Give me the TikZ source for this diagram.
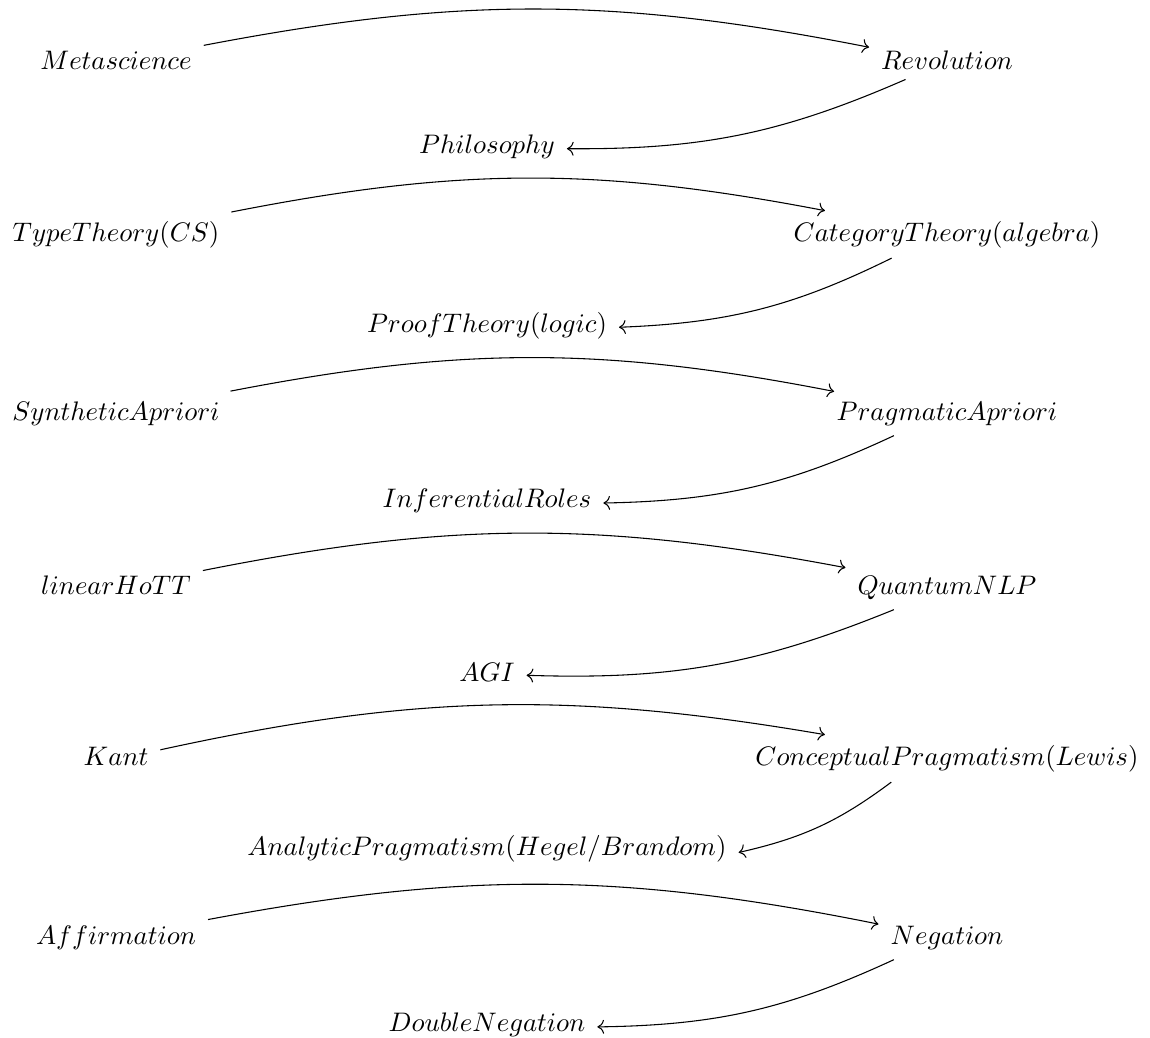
\documentclass[tikz,border=0pt]{standalone}
\usepackage{tikz-cd}
\begin{document}
\begin{tikzpicture}[x=0.3731pt,y=-0.3731pt,
  cell/.style={shape=asymmetrical rectangle, inner xsep=1ex, inner ysep=0.85ex},
  arr/.style={-{cm to}, line width=0.4pt},
]
\useasboundingbox (0,0) rectangle (1150,1038);
% group 1
\node[cell] (a1) at (116,62.4) {$Metascience$};
\node[cell] (b1) at (947,62.4) {$Revolution$};
\node[cell] (c1) at (487,146.4) {$Philosophy$};
% group 2
\node[cell] (a2) at (116,234.4) {$TypeTheory(CS)$};
\node[cell] (b2) at (947,234.4) {$CategoryTheory(algebra)$};
\node[cell] (c2) at (487,325.4) {$ProofTheory(logic)$};
% group 3
\node[cell] (a3) at (116,413.4) {$SyntheticApriori$};
\node[cell] (b3) at (947,413.4) {$PragmaticApriori$};
\node[cell] (c3) at (487,500.4) {$InferentialRoles$};
% group 4
\node[cell] (a4) at (116,587.4) {$linearHoTT$};
\node[cell] (b4) at (947,587.4) {$QuantumNLP$};
\node[cell] (c4) at (487,674.4) {$AGI$};
% group 5
\node[cell] (a5) at (116,758.4) {$Kant$};
\node[cell] (b5) at (947,758.4) {$ConceptualPragmatism(Lewis)$};
\node[cell] (c5) at (487,848.4) {$AnalyticPragmatism(Hegel/Brandom)$};
% group 6
\node[cell] (a6) at (116,937.4) {$Affirmation$};
\node[cell] (b6) at (947,937.4) {$Negation$};
\node[cell] (c6) at (487,1024.4) {$DoubleNegation$};
\foreach \i in {1,...,6}{
  \draw[arr] (a\i) to[bend left=11] (b\i);
  \draw[arr] (b\i) to[bend left=12] (c\i);
}
\end{tikzpicture}
\end{document}
